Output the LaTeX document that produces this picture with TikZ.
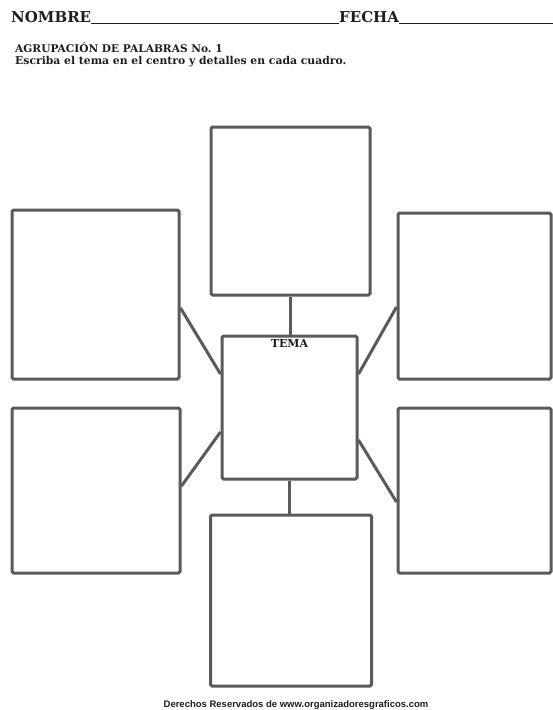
\documentclass[tikz,border=0pt]{standalone}
\usepackage{fontspec}
\setmainfont{DejaVu Serif}
\newfontfamily\footfont{Liberation Sans}
\usetikzlibrary{calc}
\frenchspacing
\definecolor{boxgray}{HTML}{5A5A5A}
\definecolor{inkc}{HTML}{1E1E1E}
\tikzset{
  cuadro/.style={draw=boxgray, line width=3pt, rounded corners=1.5pt, inner sep=0pt, rectangle},
  enlace/.style={draw=boxgray, line width=3pt},
  rotulo/.style={inner sep=0pt, text=inkc, font=\bfseries},
  raya/.style={draw=inkc, line width=1.3pt}
}
\begin{document}
\begin{tikzpicture}[x=1pt,y=-1pt]
\useasboundingbox (0,0) rectangle (553,710);
% header
\node[rotulo, anchor=base west, font=\bfseries\fontsize{15}{18}\selectfont] (nombre) at (11,22) {NOMBRE};
\node[rotulo, anchor=base west, font=\bfseries\fontsize{15}{18}\selectfont] (fecha) at (339,22) {FECHA};
\coordinate (finlinea) at (553,23.5);
\draw[raya] (nombre.base east |- 0,23.5) -- (fecha.base west |- 0,23.5);
\draw[raya] (fecha.base east |- 0,23.5) -- (finlinea);
\node[rotulo, anchor=base west, font=\bfseries\fontsize{10.6}{13}\selectfont] (titulo) at (15,52) {AGRUPACIÓN DE PALABRAS No. 1};
\node[rotulo, anchor=base west, font=\bfseries\fontsize{10.8}{13}\selectfont] (instr) at (15,64.5) {Escriba el tema en el centro y detalles en cada cuadro.};
% boxes
\node[cuadro, minimum width=159pt, minimum height=168pt] (top) at (290.5,211) {};
\node[cuadro, minimum width=167pt, minimum height=169pt] (lu) at (95.5,294.5) {};
\node[cuadro, minimum width=153pt, minimum height=166pt] (ru) at (474.5,296) {};
\node[cuadro, minimum width=168pt, minimum height=165pt] (ll) at (96,490.5) {};
\node[cuadro, minimum width=153pt, minimum height=165pt] (rl) at (474.5,490.5) {};
\node[cuadro, minimum width=135pt, minimum height=143pt] (center) at (289.5,407.5) {};
\node[cuadro, minimum width=161pt, minimum height=171pt] (bottom) at (291,600.5) {};
\node[rotulo, anchor=base, font=\bfseries\fontsize{11}{13}\selectfont] (tema) at ([yshift=-13pt]center.north) {TEMA};
% connectors
\draw[enlace] (top.south) -- (top.south |- center.north);
\draw[enlace] (center.south) -- (center.south |- bottom.north);
\draw[enlace] ([yshift=-13.5pt]lu.east) -- ([yshift=33.5pt]center.west);
\draw[enlace] ([yshift=-24.5pt]center.west) -- ([yshift=4.5pt]ll.east);
\draw[enlace] ([yshift=33.5pt]center.east) -- ([yshift=-11pt]ru.west);
\draw[enlace] ([yshift=-32.5pt]center.east) -- ([yshift=-11.5pt]rl.west);
% footer
\node[rotulo, anchor=base, font=\footfont\bfseries\fontsize{9.5}{11}\selectfont] (pie) at (296,707) {Derechos Reservados de www.organizadoresgraficos.com};
\end{tikzpicture}
\end{document}
